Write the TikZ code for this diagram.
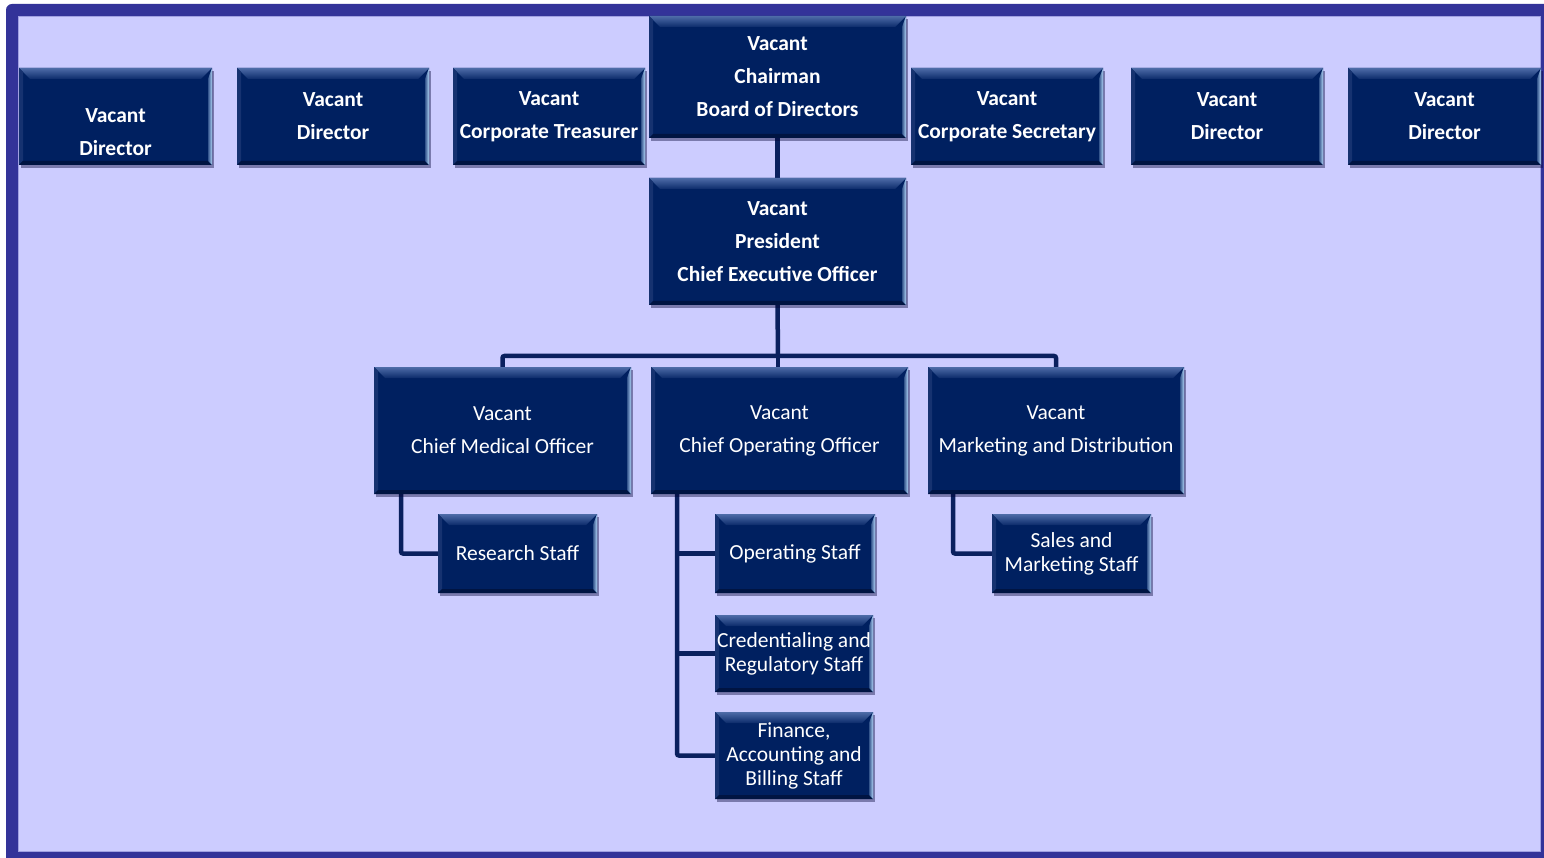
\documentclass[tikz,border=0pt]{standalone}
\usepackage{fontspec}
\setmainfont{Carlito}
\usetikzlibrary{calc,shadows}
\definecolor{boxfill}{RGB}{0,32,96}
\definecolor{bevtop}{RGB}{78,108,168}
\definecolor{bevleft}{RGB}{22,50,112}
\definecolor{bevbot}{RGB}{0,20,66}
\definecolor{bevright}{RGB}{175,210,245}
\definecolor{framecol}{RGB}{51,51,153}
\definecolor{bgcol}{RGB}{204,204,255}
\definecolor{bgedge}{RGB}{160,160,225}
\definecolor{linecol}{RGB}{10,32,94}
\pgfdeclarelayer{bg}
\pgfdeclarelayer{lines}
\pgfsetlayers{bg,lines,main}
\tikzset{
  orgbox/.style={fill=boxfill, text=white, align=center, inner sep=0pt, outer sep=0pt,
    drop shadow={shadow xshift=1.5pt, shadow yshift=-3pt, opacity=0.4, fill=black!80!blue},
    path picture={
      \path (path picture bounding box.north west) coordinate (ppnw)
            (path picture bounding box.north east) coordinate (ppne)
            (path picture bounding box.south west) coordinate (ppsw)
            (path picture bounding box.south east) coordinate (ppse);
      \fill[top color=bevtop, bottom color=boxfill!85!bevtop]
        (ppnw) -- (ppne) -- ([shift={(-11pt,-11pt)}]ppne) -- ([shift={(11pt,-11pt)}]ppnw) -- cycle;
      \fill[bevleft]
        (ppnw) -- ([shift={(4pt,-4pt)}]ppnw) -- ([shift={(4pt,4pt)}]ppsw) -- (ppsw) -- cycle;
      \fill[bevbot]
        (ppsw) -- ([shift={(4pt,4pt)}]ppsw) -- ([shift={(-4pt,4pt)}]ppse) -- (ppse) -- cycle;
      \fill[left color=boxfill!70!bevright, right color=bevright]
        (ppne) -- (ppse) -- ([shift={(-4pt,4pt)}]ppse) -- ([shift={(-4pt,-11pt)}]ppne) -- cycle;
    }},
  boldtxt/.style={font=\bfseries\fontsize{21.5}{33}\selectfont},
  midtxt/.style={font=\fontsize{21.5}{33}\selectfont},
  stafftxt/.style={font=\fontsize{21.5}{24}\selectfont},
  conn/.style={draw=linecol, line width=4.5pt, rounded corners=2pt},
}
\newcommand\OrgBox[7]{%
  \node[orgbox,#1, minimum width={#5pt-#3pt}, minimum height={#6pt-#4pt}]
    (#2) at ({(#3+#5)/2},{(#4+#6)/2}) {#7};}
\begin{document}
\begin{tikzpicture}[x=1pt,y=-1pt]
\useasboundingbox (0,0) rectangle (1544,858);
\clip (0,0) rectangle (1544,858);
\begin{pgfonlayer}{bg}
  \fill[white] (0,0) rectangle (1544,858);
  \fill[framecol, rounded corners=6pt] (6,4) rectangle (1570,880);
  \fill[bgcol, draw=bgedge, line width=0.8pt] (18,16) rectangle (1540,851);
\end{pgfonlayer}

% top row
\OrgBox{boldtxt}{d1}{19}{68}{212}{165}{\mbox{}\\[12pt]Vacant\\Director}
\OrgBox{boldtxt}{d2}{237}{68}{429}{165}{Vacant\\Director}
\OrgBox{boldtxt}{ct}{453}{68}{645}{165}{Vacant\\Corporate Treasurer}
\OrgBox{boldtxt}{chair}{649}{16}{906}{138}{Vacant\\Chairman\\Board of Directors}
\OrgBox{boldtxt}{cs}{911}{68}{1103}{165}{Vacant\\Corporate Secretary}
\OrgBox{boldtxt}{d5}{1131}{68}{1323}{165}{Vacant\\Director}
\OrgBox{boldtxt}{d6}{1348}{68}{1541}{165}{Vacant\\Director}
% CEO
\OrgBox{boldtxt}{ceo}{649}{178}{906}{305}{Vacant\\President\\Chief Executive Officer}
% second row
\OrgBox{midtxt}{cmo}{374}{367}{631}{494}{Vacant\\Chief Medical Officer}
\OrgBox{midtxt}{coo}{651}{367}{908}{494}{Vacant\\Chief Operating Officer}
\OrgBox{midtxt}{mkt}{928}{367}{1184}{494}{Vacant\\Marketing and Distribution}
% staff
\OrgBox{stafftxt}{res}{438}{514}{597}{593}{Research Staff}
\OrgBox{stafftxt}{ops}{715}{514}{875}{593}{Operating Staff}
\OrgBox{stafftxt}{cred}{715}{615}{873}{692}{Credentialing and\\Regulatory Staff}
\OrgBox{stafftxt}{fin}{715}{712}{873}{799}{Finance,\\Accounting and\\Billing Staff}
\OrgBox{stafftxt}{sales}{992}{514}{1151}{593}{Sales and\\Marketing Staff}

\coordinate (bus) at (778,356);
\coordinate (cmospine) at (401,494);
\coordinate (coospine) at (677,494);
\coordinate (mktspine) at (953,494);

\begin{pgfonlayer}{lines}
  \draw[conn] (chair.south) -- (ceo.north);
  \draw[conn] (ceo.south) -- (bus);
  \draw[conn] (cmo.north) -- (cmo.north |- bus) -- (mkt.north |- bus) -- (mkt.north);
  \draw[conn] (bus) -- (bus |- coo.north);
  \draw[conn] (cmospine) |- (res.west);
  \draw[conn] (coospine) |- (fin.west);
  \draw[conn] (coospine |- ops.west) -- (ops.west);
  \draw[conn] (coospine |- cred.west) -- (cred.west);
  \draw[conn] (mktspine) |- (sales.west);
\end{pgfonlayer}
\end{tikzpicture}
\end{document}
